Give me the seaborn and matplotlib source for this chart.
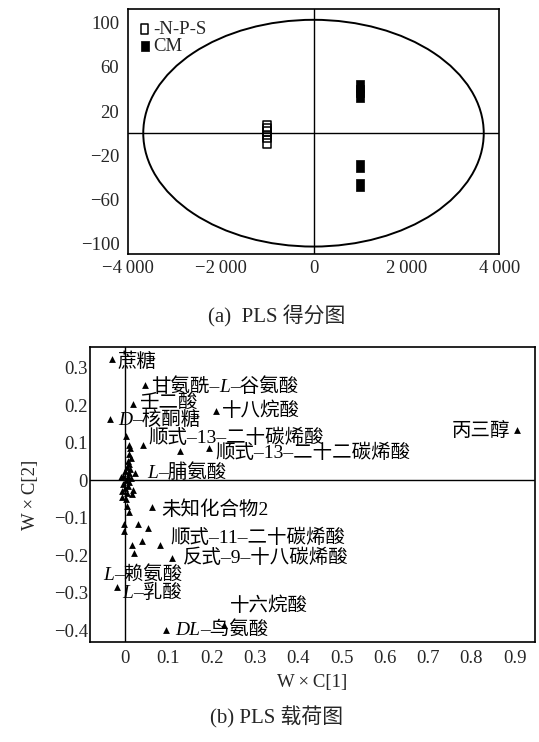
import numpy as np
import pandas as pd
import matplotlib
matplotlib.use("Agg")
import matplotlib.pyplot as plt
import seaborn as sns
from matplotlib.patches import Ellipse
from matplotlib.path import Path
from matplotlib.offsetbox import TextArea, HPacker, AnnotationBbox

# ---------------- data ----------------
# (a) PLS score plot
nps_x = [-1000, -1000, -1000, -1000, -1000]
nps_y = [6, 3, 0, -3, -8]
cm_x = [1000, 1000, 1000, 1000, 1000]
cm_y = [43, 38, 34, -30, -47]
score_xticks = [-4000, -2000, 0, 2000, 4000]
score_xticklabels = ["\u22124\u2009000", "\u22122\u2009000", "0", "2\u2009000", "4\u2009000"]
score_yticks = [100, 60, 20, -20, -60, -100]
ellipse_w = 7330
ellipse_h = 205

# (b) PLS loading plot — labelled variables (*...* = italic)
load_names = ["蔗糖", "甘氨酰–*L*–谷氨酸", "壬二酸", "十八烷酸", "*D*–核酮糖",
              "顺式–13–二十碳烯酸", "顺式–13–二十二碳烯酸", "*L*–脯氨酸",
              "未知化合物2", "顺式–11–二十碳烯酸", "反式–9–十八碳烯酸",
              "*L*–赖氨酸", "*L*–乳酸", "*DL*–鸟氨酸", "十六烷酸", "丙三醇"]
load_x = [-0.031, 0.046, 0.018, 0.210, -0.035, 0.042, 0.195, 0.023,
          0.063, 0.081, 0.108, 0.021, -0.019, 0.095, 0.229, 0.906]
load_y = [0.322, 0.253, 0.204, 0.185, 0.162, 0.093, 0.085, 0.019,
          -0.073, -0.173, -0.207, -0.194, -0.284, -0.400, -0.387, 0.133]
# unlabelled variables
other_x = [0.127, 0.002, 0.010, 0.012, 0.008, 0.014, 0.006, 0.010, 0.004, 0.012,
           0.000, 0.008, -0.004, 0.006, 0.014, -0.010, 0.002, 0.010, -0.004, 0.006,
           0.000, -0.006, 0.004, -0.008, 0.002, 0.019, 0.017, 0.004, 0.010, -0.002,
           -0.002, 0.030, 0.052, 0.015, 0.038]
other_y = [0.078, 0.117, 0.093, 0.085, 0.070, 0.060, 0.050, 0.042, 0.035, 0.030,
           0.025, 0.018, 0.012, 0.008, 0.005, 0.008, 0.000, -0.004, -0.010, -0.015,
           -0.022, -0.030, -0.035, -0.045, -0.050, -0.027, -0.038, -0.070, -0.086, -0.116,
           -0.135, -0.117, -0.127, -0.173, -0.163]
load_xticks = [0, 0.1, 0.2, 0.3, 0.4, 0.5, 0.6, 0.7, 0.8, 0.9]
load_xticklabels = ["0", "0.1", "0.2", "0.3", "0.4", "0.5", "0.6", "0.7", "0.8", "0.9"]
load_yticks = [0.3, 0.2, 0.1, 0, -0.1, -0.2, -0.3, -0.4]
load_yticklabels = ["0.3", "0.2", "0.1", "0", "\u22120.1", "\u22120.2", "\u22120.3", "\u22120.4"]

# ---------------- layout / style ----------------
# label offsets in pixels (dx, dy up), and horizontal alignment
label_offsets = {
    "蔗糖": (5.5, -2.4, 0), "甘氨酰–*L*–谷氨酸": (6.5, -1.7, 0), "壬二酸": (6.5, 0.6, 0),
    "十八烷酸": (5.5, -0.3, 0), "*D*–核酮糖": (8.0, -0.7, 0), "顺式–13–二十碳烯酸": (5.5, 7.7, 0),
    "顺式–13–二十二碳烯酸": (5.5, -5.0, 0), "*L*–脯氨酸": (12.0, 0.0, 0),
    "未知化合物2": (8.5, -2.0, 0), "顺式–11–二十碳烯酸": (10.0, 6.7, 0),
    "反式–9–十八碳烯酸": (11.0, -0.6, 0), "*L*–赖氨酸": (-30.7, -22.3, 0),
    "*L*–乳酸": (5.0, -6.6, 0), "*DL*–鸟氨酸": (9.0, 0.0, 0), "十六烷酸": (6.0, 19.0, 0),
    "丙三醇": (-7.3, -0.7, 1),
}

sns.set_style("white")
FAM = ["Liberation Serif", "Noto Sans CJK SC", "DejaVu Sans"]
plt.rcParams["font.family"] = FAM
plt.rcParams["axes.unicode_minus"] = True
FS = 13.5
LBL_FS = 14
CAP_FS = 15

W, H = 539, 742
fig = plt.figure(figsize=(W / 100, H / 100), dpi=100)
# axes boxes in pixels: left, top, right, bottom
a1 = (127.7, 9.3, 499.3, 254.3)
a2 = (90, 347, 535, 642)
ax1 = fig.add_axes([a1[0] / W, 1 - a1[3] / H, (a1[2] - a1[0]) / W, (a1[3] - a1[1]) / H])
ax2 = fig.add_axes([a2[0] / W, 1 - a2[3] / H, (a2[2] - a2[0]) / W, (a2[3] - a2[1]) / H])

# ---- (a) score plot ----
rect = Path([(-0.38, -0.5), (0.38, -0.5), (0.38, 0.5), (-0.38, 0.5), (-0.38, -0.5)],
            [Path.MOVETO, Path.LINETO, Path.LINETO, Path.LINETO, Path.CLOSEPOLY])
ax1.axhline(0, color="black", lw=1.0, zorder=1)
ax1.axvline(0, color="black", lw=1.0, zorder=1)
ax1.add_patch(Ellipse((0, 0), ellipse_w, ellipse_h, fill=False, ec="black", lw=1.4, zorder=1))
sns.scatterplot(x=nps_x, y=nps_y, marker=rect, s=70, color="black", linewidth=1.1,
                ax=ax1, label="-N-P-S", zorder=3)
c_open = ax1.collections[-1]
c_open.set_facecolor("none")
c_open.set_edgecolor("black")
sns.scatterplot(x=cm_x, y=cm_y, marker=rect, s=70, color="black", edgecolor="black",
                linewidth=0.5, ax=ax1, label="CM", zorder=3)
ax1.set_xlim(-4000, 4000)
ax1.set_ylim(-109.5, 112)
ax1.set_xticks(score_xticks)
ax1.set_xticklabels(score_xticklabels)
ax1.set_yticks(score_yticks)
ax1.set_yticklabels([str(v).replace("-", "\u2212") for v in score_yticks])
ax1.tick_params(axis="both", direction="in", length=4, width=1.0, labelsize=FS, color="black")
ax1.tick_params(axis="x", pad=4)
ax1.tick_params(axis="y", pad=6)
ax1.legend(loc="upper left", frameon=False, fontsize=FS, handlelength=0.6,
           handletextpad=0.15, labelspacing=0.0, borderaxespad=0.3, borderpad=0.3,
           markerscale=0.85)
ax1.set_xlabel("")
ax1.set_ylabel("")

# ---- (b) loading plot ----
ax2.axhline(0, color="black", lw=1.0, zorder=1)
ax2.axvline(0, color="black", lw=1.0, zorder=1)
df_other = pd.DataFrame({"x": other_x, "y": other_y})
df_lab = pd.DataFrame({"x": load_x, "y": load_y, "name": load_names})
sns.scatterplot(data=df_other, x="x", y="y", marker="^", s=24, color="black",
                linewidth=0, ax=ax2, zorder=3)
sns.scatterplot(data=df_lab, x="x", y="y", marker="^", s=24, color="black",
                linewidth=0, ax=ax2, zorder=3)


def make_label(text):
    parts = text.split("*")
    boxes = []
    for i, p in enumerate(parts):
        if not p:
            continue
        if i % 2 == 1:
            tp = dict(family=["Liberation Serif"], style="italic", size=LBL_FS, color="black")
        else:
            tp = dict(family=FAM, size=LBL_FS, color="black")
        boxes.append(TextArea(p, textprops=tp))
    return HPacker(children=boxes, align="baseline", pad=0, sep=0)


for name, x, y in zip(df_lab["name"], df_lab["x"], df_lab["y"]):
    dx, dy, ha = label_offsets[name]
    ab = AnnotationBbox(make_label(name), (x, y), xybox=(dx * 0.72, dy * 0.72),
                        xycoords="data", boxcoords="offset points",
                        box_alignment=(ha, 0.5), frameon=False, pad=0, zorder=4)
    ax2.add_artist(ab)

ax2.set_xlim(-0.081, 0.947)
ax2.set_ylim(-0.432, 0.355)
ax2.set_xticks(load_xticks)
ax2.set_xticklabels(load_xticklabels)
ax2.set_yticks(load_yticks)
ax2.set_yticklabels(load_yticklabels)
ax2.tick_params(axis="both", direction="in", length=4, width=1.0, labelsize=FS, color="black")
ax2.tick_params(axis="x", pad=6)
ax2.tick_params(axis="y", pad=1.5)
ax2.set_xlabel("W\u2009×\u2009C[1]", fontsize=FS, labelpad=5)
ax2.set_ylabel("W\u2009×\u2009C[2]", fontsize=FS, labelpad=11)

for ax in (ax1, ax2):
    for sp in ax.spines.values():
        sp.set_visible(True)
        sp.set_color("black")
        sp.set_linewidth(1.2)

fig.text(277 / W, 1 - 316 / H, "(a)  PLS 得分图", ha="center", va="center",
         fontsize=CAP_FS, family=FAM)
fig.text(277 / W, 1 - 717 / H, "(b) PLS 载荷图", ha="center", va="center",
         fontsize=CAP_FS, family=FAM)

fig.savefig("out.png", dpi=100)
